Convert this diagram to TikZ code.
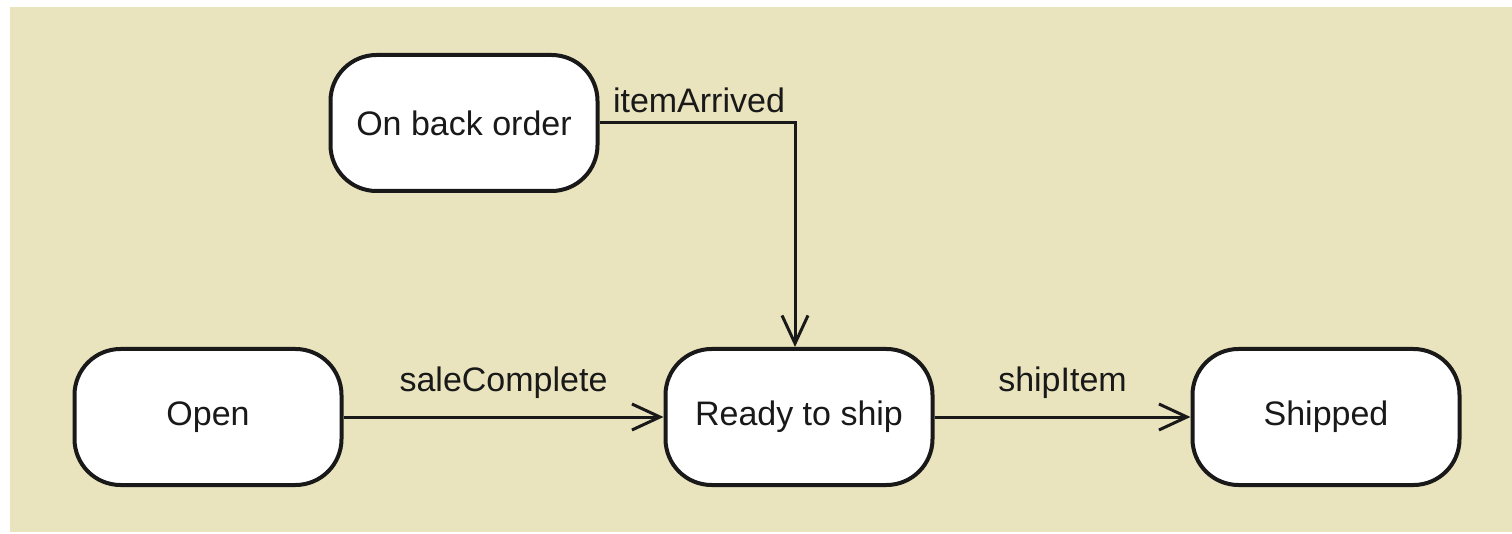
\documentclass[tikz,border=0pt]{standalone}
\usepackage{fontspec}
\setmainfont{Liberation Sans}
\usetikzlibrary{arrows.meta}
\definecolor{bgbeige}{RGB}{233,228,190}
\definecolor{inkc}{RGB}{25,25,25}
\begin{document}
\begin{tikzpicture}[x=1pt,y=-1pt,
  font=\fontsize{34}{40}\selectfont,
  statebox/.style={draw=inkc, fill=white, line width=4pt, rounded corners=46pt,
    minimum width=267pt, minimum height=136pt, inner sep=0pt, text=inkc},
  arr/.style={draw=inkc, line width=3pt,
    -{Straight Barb[length=28pt,width=26pt,line width=3pt]}},
  lbl/.style={text=inkc, inner sep=0pt}]
\useasboundingbox (0,0) rectangle (1512,534);
\fill[bgbeige] (10,7) rectangle (1512,532);
\node[statebox] (back) at (464,123) {On back order};
\node[statebox] (open) at (208,417) {Open};
\node[statebox] (ready) at (799,417) {Ready to ship};
\node[statebox] (shipped) at (1326,417) {Shipped};
\draw[arr] (back.east) -| node[lbl, pos=0, anchor=base west, xshift=12pt, yshift=10pt] {itemArrived} ([xshift=-4pt]ready.north);
\draw[arr] (open) -- node[lbl, midway, above=17pt] {saleComplete} (ready);
\draw[arr] (ready) -- node[lbl, midway, above=17pt] {shipItem} (shipped);
\end{tikzpicture}
\end{document}
